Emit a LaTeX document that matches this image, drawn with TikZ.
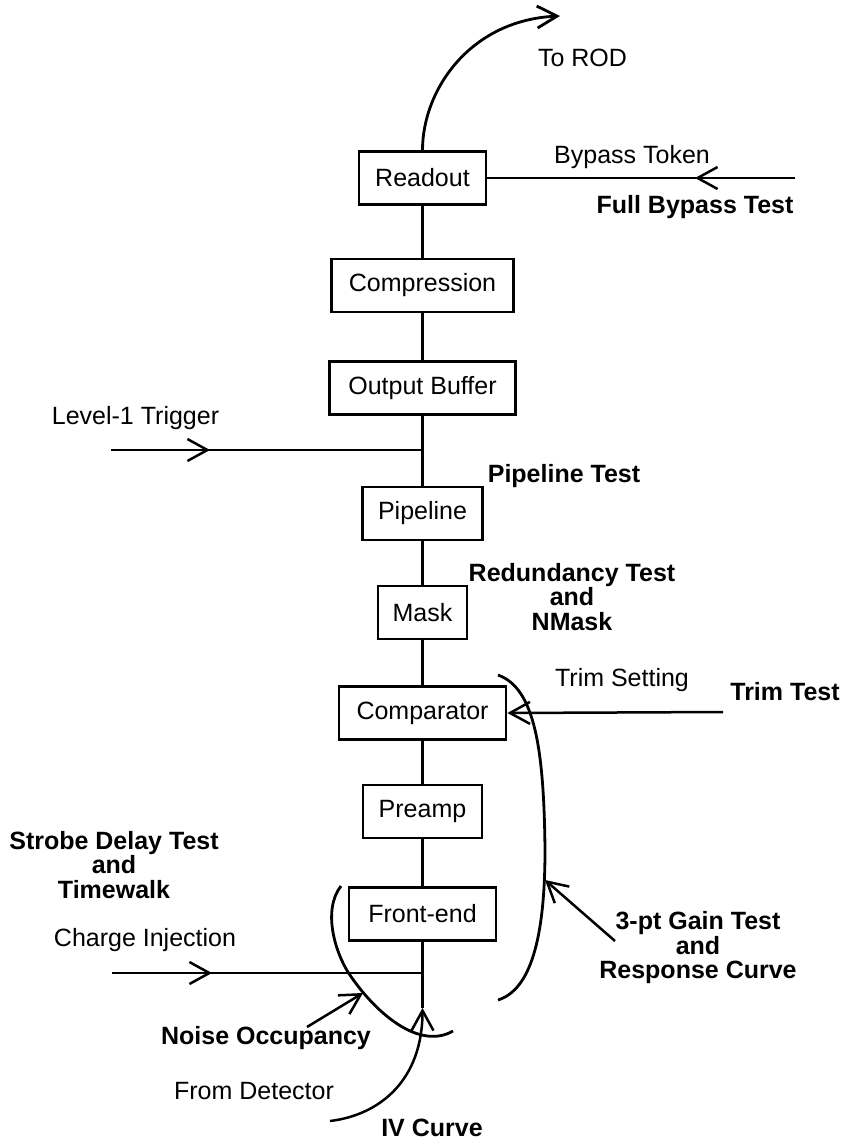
\documentclass[tikz,border=0pt]{standalone}
\usepackage{fontspec}
\setmainfont{Liberation Sans}
\usetikzlibrary{arrows.meta}
\begin{document}
\begin{tikzpicture}[x=1pt,y=-1pt,
  line width=2.5pt,
  block/.style={draw, line width=2.8pt, minimum height=53pt, inner sep=0pt,
    font=\fontsize{25}{26}\selectfont},
  lbl/.style={inner sep=0pt, font=\fontsize{25}{26}\selectfont},
  test/.style={inner sep=0pt, align=center,
    font=\fontsize{25}{24.5}\selectfont\bfseries},
  barb/.style={-{Straight Barb[length=20pt,width=22pt]}},
  bracket/.style={line width=2.8pt},
]
\fill[white] (0,0) rectangle (846,1143);
\useasboundingbox (0,0) rectangle (846,1143);

% signal chain, top to bottom
\node[block, minimum width=127pt] (readout)  at (422.5,178)   {Readout};
\node[block, minimum width=182pt] (compress) at (422.5,285.5) {Compression};
\node[block, minimum width=186pt] (outbuf)   at (422.5,388)   {Output Buffer};
\node[block, minimum width=120pt] (pipeline) at (422.5,513.5) {Pipeline};
\node[block, minimum width=89pt]  (mask)     at (422.5,612.5) {Mask};
\node[block, minimum width=167pt] (compar)   at (422.5,713)   {Comparator};
\node[block, minimum width=119pt] (preamp)   at (422.5,811.5) {Preamp};
\node[block, minimum width=147pt] (frontend) at (422.5,914)   {Front-end};

\draw (readout.south)  -- (compress.north);
\draw (compress.south) -- (outbuf.north);
\draw (outbuf.south)   -- (pipeline.north);
\draw (pipeline.south) -- (mask.north);
\draw (mask.south)     -- (compar.north);
\draw (compar.south)   -- (preamp.north);
\draw (preamp.south)   -- (frontend.north);

% free ends of the connectors
\coordinate (rod)     at (560,16);
\coordinate (bypin)   at (795,178);
\coordinate (byptip)  at (695,178);
\coordinate (l1in)    at (111,450);
\coordinate (l1tip)   at (210,450);
\coordinate (l1j)     at (422.5,450);
\coordinate (trimin)  at (723,712);
\coordinate (chin)    at (112,973);
\coordinate (chtip)   at (212,973);
\coordinate (chj)     at (422.5,973);
\coordinate (detend)  at (422.5,1008);
\coordinate (detin)   at (330,1121);
\coordinate (noisein) at (307,1027);
\coordinate (noisetip)at (363,993);
\coordinate (gainin)  at (615,941);
\coordinate (gaintip) at (545,880);

% output to the ROD
\draw[barb, bracket] (readout.north) .. controls (422.5,90) and (470,20) .. (rod);
\node[lbl] (rodlbl) at (582.5,58) {To ROD};

% bypass token
\draw (bypin) -- (readout.east);
\draw[barb] (bypin) -- (byptip);
\node[lbl] (byplbl) at (632,157) {Bypass Token};
\node[test] (byptest) at (695,207) {Full Bypass Test};

% level-1 trigger
\draw (l1in) -- (l1j);
\draw[barb] (l1in) -- (l1tip);
\node[lbl] (l1lbl) at (135.5,418) {Level-1 Trigger};

\node[test] (pipetest) at (564,476) {Pipeline Test};
\node[test] (redtest) at (572,597) {Redundancy Test\\and\\NMask};

% trim setting
\draw[barb] (trimin) -- (compar.east);
\node[lbl] (trimlbl) at (622,680) {Trim Setting};
\node[test] (trimtest) at (785,692) {Trim Test};

% gain scan bracket
\draw[bracket] (498,675) .. controls (535,688) and (544,750) .. (545,850)
      .. controls (545,940) and (530,990) .. (498,1000);
\draw[barb] (gainin) -- (gaintip);
\node[test] (gaintest) at (698,948) {3-pt Gain Test\\and\\Response Curve};

% strobe delay
\node[test] (strobe) at (114,865) {Strobe Delay Test\\and\\Timewalk};

% charge injection
\draw (chin) -- (chj);
\draw[barb] (chin) -- (chtip);
\node[lbl] (chlbl) at (145,940) {Charge Injection};

% front-end bracket and noise occupancy
\draw[bracket] (341,886) .. controls (322,910) and (335,955) .. (352,978)
      .. controls (378,1015) and (420,1050) .. (453,1031);
\draw[barb] (noisein) -- (noisetip);
\node[test] (noise) at (266,1038) {Noise Occupancy};

% detector input
\draw (frontend.south) -- (detend);
\draw[barb] (detin) .. controls (380,1115) and (422.5,1080) .. (detend);
\node[lbl] (detlbl) at (254,1091) {From Detector};
\node[test] (ivcurve) at (432,1128) {IV Curve};
\end{tikzpicture}
\end{document}
